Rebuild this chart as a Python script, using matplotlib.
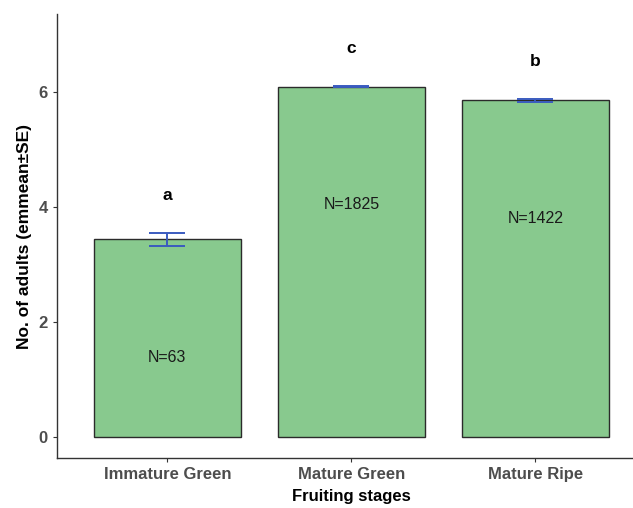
import matplotlib.pyplot as plt

plt.rcParams['font.family'] = ['Liberation Sans', 'DejaVu Sans']

# Данные
stages = ['Immature Green', 'Mature Green', 'Mature Ripe']
emmean = [3.44, 6.10, 5.86]
se = [0.11, 0.01, 0.02]
letters = ['a', 'c', 'b']
n_labels = ['N=63', 'N=1825', 'N=1422']

fig = plt.figure(figsize=(6.33, 5.08), dpi=100)
ax = fig.add_axes([0.09, 0.098, 0.93, 0.874])

x = range(1, len(stages) + 1)
ax.bar(x, emmean, width=0.8, color='#88C98E', edgecolor='#2b2b2b', linewidth=1.0, zorder=2)
ax.errorbar(x, emmean, yerr=se, fmt='none', ecolor='#3a5bbf', elinewidth=1.4,
            capsize=13, capthick=1.4, zorder=3)

# Буквы и подписи N
for xi, m, s, let, nl in zip(x, emmean, se, letters, n_labels):
    ax.text(xi, m + s + 0.65, let, ha='center', va='center', fontsize=12.5,
            fontweight='bold', color='black')
    ax.text(xi, m - 2.05, nl, ha='center', va='center', fontsize=11.5, color='#1a1a1a')

ax.set_xlim(0.4, 3.6)
ax.set_ylim(-0.37, 7.36)
ax.set_yticks([0, 2, 4, 6])
ax.set_xticks(list(x))
ax.set_xticklabels(stages)

for side in ['top', 'right']:
    ax.spines[side].set_visible(False)
for side in ['left', 'bottom']:
    ax.spines[side].set_color('#333333')
    ax.spines[side].set_linewidth(1.0)

ax.tick_params(axis='both', colors='#333333', length=3, width=0.8, labelsize=12, labelcolor='#4d4d4d')
for lab in ax.get_xticklabels() + ax.get_yticklabels():
    lab.set_fontweight('bold')

ax.set_xlabel('Fruiting stages', fontsize=12, fontweight='bold', labelpad=5)
ax.set_ylabel('No. of adults (emmean±SE)', fontsize=12.5, fontweight='bold', labelpad=5)

fig.savefig('out.png', dpi=100)
